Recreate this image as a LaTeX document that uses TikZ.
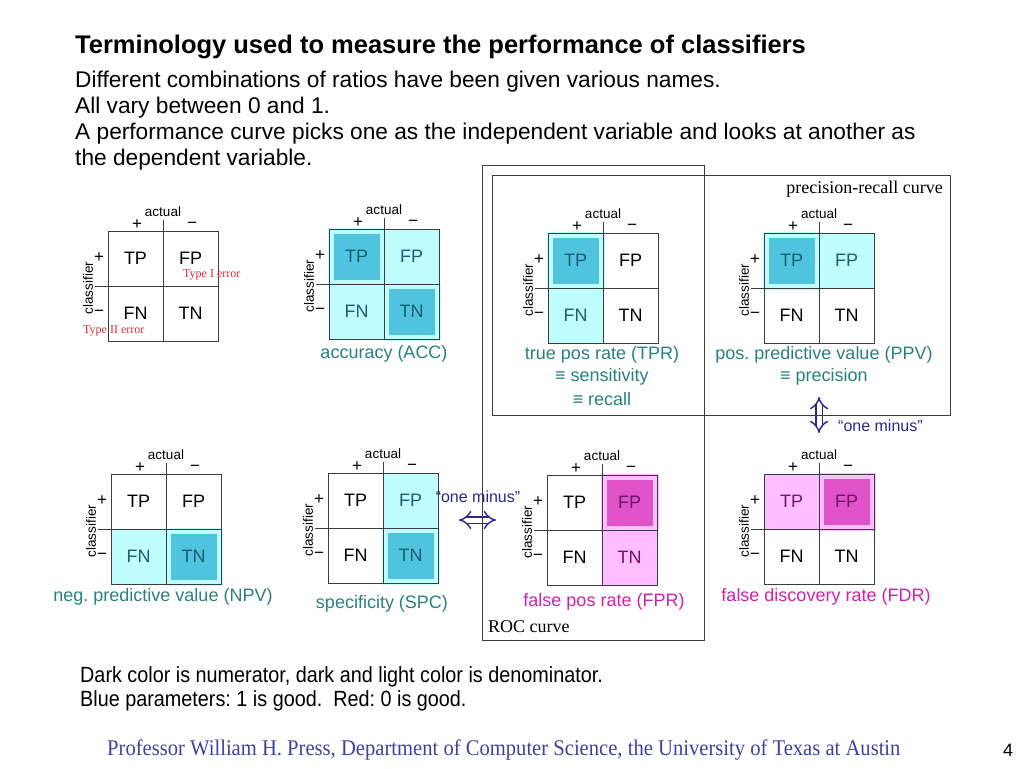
\documentclass[tikz,border=0pt]{standalone}
\usepackage{fontspec}
\setmainfont{Liberation Sans}
\newfontfamily\timesfont{Liberation Serif}
\newfontfamily\footfont[FakeStretch=0.92]{Liberation Serif}
\newfontfamily\narrowfont[FakeStretch=0.9]{Liberation Sans}
\usetikzlibrary{positioning, arrows.meta}
\frenchspacing

\definecolor{ltblue}{RGB}{192,255,255}
\definecolor{dkblue}{RGB}{80,195,222}
\definecolor{ltpink}{RGB}{255,190,255}
\definecolor{dkpink}{RGB}{224,82,200}
\definecolor{celltext}{RGB}{26,95,112}
\definecolor{cellpurp}{RGB}{110,20,100}
\definecolor{tealtext}{RGB}{40,128,128}
\definecolor{magtext}{RGB}{208,32,176}
\definecolor{navy}{RGB}{40,40,140}
\definecolor{footblue}{RGB}{64,64,160}
\definecolor{errred}{RGB}{220,40,60}
\definecolor{linegray}{RGB}{60,60,60}

\begin{document}
\begin{tikzpicture}[x=1pt, y=-1pt,
            cell/.style={rectangle, minimum size=55pt, inner sep=0pt, font=\fontsize{18}{21}\selectfont},
            ltb/.style={fill=ltblue, text=celltext},
            dkb/.style={fill=dkblue, draw=ltblue, line width=6pt, minimum size=52pt, text=celltext},
            ltp/.style={fill=ltpink, text=cellpurp},
            dkp/.style={fill=dkpink, draw=ltpink, line width=6pt, minimum size=52pt, text=cellpurp},
            tpc/.style={}, fpc/.style={}, fnc/.style={}, tnc/.style={},
            matline/.style={draw=linegray, line width=0.9pt},
            small/.style={font=\fontsize{13.5}{16}\selectfont, inner sep=0pt},
            sign/.style={font=\fontsize{17}{19}\selectfont, inner sep=0pt},
            blue label/.style={text=tealtext, font=\fontsize{18}{21}\selectfont, inner sep=0pt},
            pink label/.style={text=magtext, font=\fontsize{18}{21}\selectfont, inner sep=0pt},
            curve box/.style={draw=linegray, line width=0.9pt},
            curve name/.style={font=\timesfont\fontsize{18}{21}\selectfont, inner sep=0pt},
            one minus/.style={draw=navy, double=white, double distance=5pt, line width=1.4pt, {Implies[scale=1.7]}-{Implies[scale=1.7]}},
            one minus text/.style={text=navy, font=\fontsize{16}{19}\selectfont, inner sep=0pt},
            err/.style={text=errred, font=\timesfont\fontsize{12}{14}\selectfont, inner sep=0pt},
            cmat/.pic={
                \node[cell, tpc] (-tp) at (27.5,27.5) {TP};
                \node[cell, fpc] (-fp) at (82.5,27.5) {FP};
                \node[cell, fnc] (-fn) at (27.5,82.5) {FN};
                \node[cell, tnc] (-tn) at (82.5,82.5) {TN};
                \draw[matline] (0,0) rectangle (110,110);
                \draw[matline] (55,-11) -- (55,110);
                \draw[matline] (-13,55) -- (110,55);
                \node[small] (-act) at (55,-19) {actual};
                \node[sign] (-ap) at (29,-6) {+};
                \node[sign] (-am) at (84,-6) {−};
                \node[small, rotate=90] (-cls) at (-20,57) {classifier};
                \node[sign] (-cp) at (-9,27) {+};
                \node[sign] (-cm) at (-9,82) {−};
            }
        ]
            \useasboundingbox (0,0) rectangle (1024,768);

            % heading
            \node[anchor=west, inner sep=0pt, font=\bfseries\fontsize{25.5}{30}\selectfont] (title) at (75,47) {Terminology used to measure the performance of classifiers};
            \node[anchor=north west, align=left, inner sep=0pt, font=\fontsize{22.7}{26}\selectfont] (intro) at (75,71) {Different combinations of ratios have been given various names.\\All vary between 0 and 1.\\A performance curve picks one as the independent variable and looks at another as\\the dependent variable.};

            % top row
            \pic (conf) at (108,231) {cmat};
            \node[err, anchor=west] (type1) at (183,275) {Type I error};
            \node[err, anchor=west] (type2) at (83,331) {Type II error};

            \pic[tpc/.style=dkb, fpc/.style=ltb, fnc/.style=ltb, tnc/.style=dkb] (acc) at (329,229) {cmat};
            \node[blue label] (acclbl) at (384,354) {accuracy (ACC)};

            \pic[tpc/.style=dkb, fnc/.style=ltb] (tpr) at (548,233) {cmat};
            \node[blue label] (tprlbl) at (602,355) {true pos rate (TPR)};
            \node[blue label] (tprlbl2) at (602,377) {≡ sensitivity};
            \node[blue label] (tprlbl3) at (602,399) {≡ recall};

            \pic[tpc/.style=dkb, fpc/.style=ltb] (ppv) at (764,233) {cmat};
            \node[blue label] (ppvlbl) at (824,355) {pos. predictive value (PPV)};
            \node[blue label] (ppvlbl2) at (824,377) {≡ precision};

            % bottom row
            \pic[fnc/.style=ltb, tnc/.style=dkb] (npv) at (111,474) {cmat};
            \node[blue label] (npvlbl) at (163,597) {neg. predictive value (NPV)};

            \pic[fpc/.style=ltb, tnc/.style=dkb] (spc) at (328,473) {cmat};
            \node[blue label] (spclbl) at (382,604) {specificity (SPC)};

            \pic[fpc/.style=dkp, tnc/.style=ltp] (fpr) at (547,475) {cmat};
            \node[pink label] (fprlbl) at (604,602) {false pos rate (FPR)};

            \pic[tpc/.style=ltp, fpc/.style=dkp] (fdr) at (764,474) {cmat};
            \node[pink label] (fdrlbl) at (826,597) {false discovery rate (FDR)};

            % one minus arrows
            \coordinate (om1a) at (459,520);
            \coordinate (om1b) at (496,520);
            \draw[one minus] (om1a) -- (om1b);
            \node[one minus text] (om1txt) at (478,497) {“one minus”};
            \coordinate (om2a) at (819,397);
            \coordinate (om2b) at (819,433);
            \draw[one minus] (om2a) -- (om2b);
            \node[one minus text, anchor=west] (om2txt) at (838,426) {“one minus”};

            % curve boxes
            \draw[curve box] (482,165) rectangle (704,640);
            \draw[curve box] (492,175) rectangle (950,415);
            \node[curve name, anchor=east] (prname) at (943,189) {precision-recall curve};
            \node[curve name, anchor=west] (rocname) at (488,627) {ROC curve};

            % notes
            \node[anchor=north west, align=left, inner sep=0pt, font=\narrowfont\fontsize{22}{24}\selectfont] (notes) at (80,666) {Dark color is numerator, dark and light color is denominator.\\Blue parameters: 1 is good.\ \ Red: 0 is good.};
            \node[anchor=west, inner sep=0pt, text=footblue, font=\footfont\fontsize{22.4}{26}\selectfont] (footer) at (107,750) {Professor William H. Press, Department of Computer Science, the University of Texas at Austin};
            \node[inner sep=0pt, font=\fontsize{18}{22}\selectfont] (pagenum) at (1008,750) {4};
        \end{tikzpicture}
\end{document}
